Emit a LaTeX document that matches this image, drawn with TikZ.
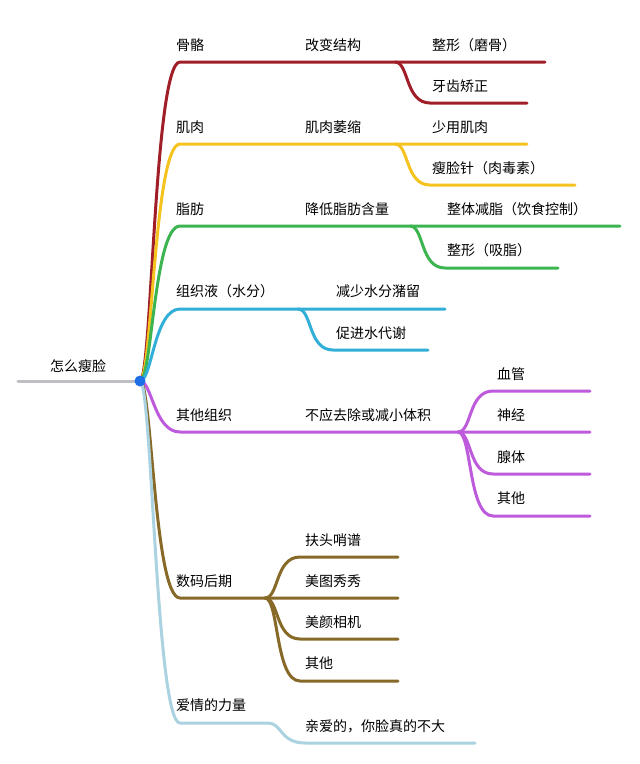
\documentclass[tikz,border=0pt]{standalone}
\usepackage{fontspec}
\newfontfamily\cjk{Noto Sans CJK SC}
\definecolor{cred}{RGB}{160,30,40}
\definecolor{cyel}{RGB}{245,195,30}
\definecolor{cgrn}{RGB}{60,180,80}
\definecolor{cblu}{RGB}{50,175,215}
\definecolor{cpur}{RGB}{190,90,220}
\definecolor{cbrn}{RGB}{135,105,40}
\definecolor{clbl}{RGB}{170,210,225}
\definecolor{cgry}{RGB}{190,190,195}
\definecolor{cdot}{RGB}{30,110,230}
\tikzset{lbl/.style={font=\cjk\fontsize{14}{16}\selectfont,inner sep=0pt,anchor=west},
 br/.style={line width=3pt,line cap=round}}
\newcommand{\rootbr}[3]{\draw[br,#1] (root) .. controls (152,381) and (154,#2) .. (180,#2) -- (#3,#2);}
\newcommand{\subbr}[5]{\draw[br,#1] (#2,#3) .. controls (#2+14,#3) and (#2+10,#4) .. (#2+35,#4) -- (#5,#4);}
\begin{document}
\begin{tikzpicture}[x=1pt,y=-1pt]
\useasboundingbox[fill=white] (0,0) rectangle (640,764);
\coordinate (root) at (140,381);
\coordinate (rootL) at (18,381);
\draw[br,cgry] (rootL) -- (root);
\node[lbl] (r0) at (50,366) {怎么瘦脸};
% red
\rootbr{cred}{62}{545}
\subbr{cred}{395}{62}{103}{527}
\node[lbl] (a1) at (176,45) {骨骼};
\node[lbl] (a2) at (305,45) {改变结构};
\node[lbl] (a3) at (432,45) {整形（磨骨）};
\node[lbl] (a4) at (432,86) {牙齿矫正};
% yellow
\rootbr{cyel}{144}{527}
\subbr{cyel}{395}{144}{185}{575}
\node[lbl] (b1) at (176,127) {肌肉};
\node[lbl] (b2) at (305,127) {肌肉萎缩};
\node[lbl] (b3) at (432,127) {少用肌肉};
\node[lbl] (b4) at (432,168) {瘦脸针（肉毒素）};
% green
\rootbr{cgrn}{226}{620}
\subbr{cgrn}{410}{226}{268}{558}
\node[lbl] (c1) at (176,209) {脂肪};
\node[lbl] (c2) at (305,209) {降低脂肪含量};
\node[lbl] (c3) at (447,209) {整体减脂（饮食控制）};
\node[lbl] (c4) at (447,250) {整形（吸脂）};
% blue
\rootbr{cblu}{309}{445}
\subbr{cblu}{298}{309}{350}{428}
\node[lbl] (d1) at (176,291) {组织液（水分）};
\node[lbl] (d2) at (336,291) {减少水分潴留};
\node[lbl] (d3) at (336,333) {促进水代谢};
% purple
\rootbr{cpur}{432}{590}
\subbr{cpur}{458}{432}{391}{590}
\subbr{cpur}{458}{432}{474}{590}
\subbr{cpur}{458}{432}{516}{590}
\node[lbl] (e1) at (176,415) {其他组织};
\node[lbl] (e2) at (305,415) {不应去除或减小体积};
\node[lbl] (e3) at (497,374) {血管};
\node[lbl] (e4) at (497,415) {神经};
\node[lbl] (e5) at (497,457) {腺体};
\node[lbl] (e6) at (497,498) {其他};
% brown
\rootbr{cbrn}{598}{398}
\subbr{cbrn}{265}{598}{557}{398}
\subbr{cbrn}{265}{598}{639}{398}
\subbr{cbrn}{265}{598}{681}{398}
\node[lbl] (f1) at (176,581) {数码后期};
\node[lbl] (f2) at (305,540) {扶头哨谱};
\node[lbl] (f3) at (305,581) {美图秀秀};
\node[lbl] (f4) at (305,622) {美颜相机};
\node[lbl] (f5) at (305,663) {其他};
% light blue
\draw[br,clbl] (root) .. controls (152,381) and (156,723) .. (180,723) -- (268,723) .. controls (282,723) and (280,743) .. (305,743) -- (475,743);
\node[lbl] (g1) at (176,705) {爱情的力量};
\node[lbl] (g2) at (305,726) {亲爱的，你脸真的不大};
\fill[cdot] (root) circle (5.5);
\end{tikzpicture}
\end{document}
